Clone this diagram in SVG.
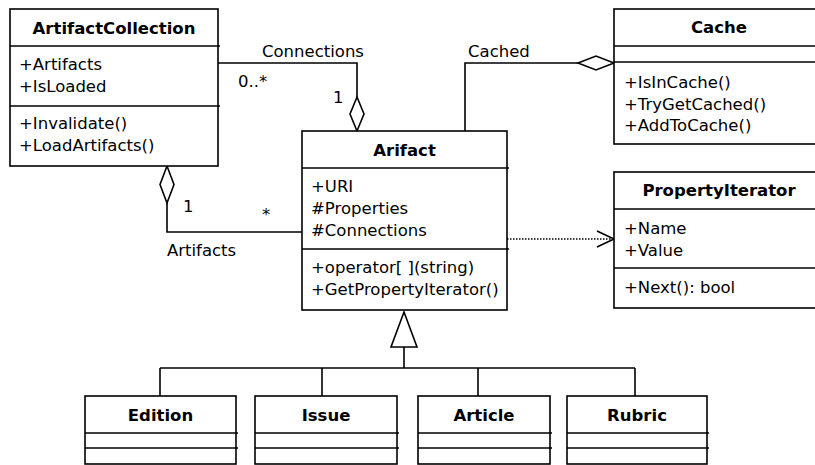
<svg xmlns="http://www.w3.org/2000/svg" width="815" height="465" viewBox="0 0 815 465">
<style>
.box{fill:#fff;stroke:#000;stroke-width:1.6}
.sep{stroke:#000;stroke-width:1.6}
.t{font-family:"DejaVu Sans",Verdana,sans-serif;font-size:16.5px;fill:#000}
.b{font-weight:bold;text-anchor:middle}
.ln{fill:none;stroke:#000;stroke-width:1.6}
.dia{fill:#fff;stroke:#000;stroke-width:1.6}
.tri{fill:#fff;stroke:#000;stroke-width:1.6}
.dot{fill:none;stroke:#000;stroke-width:1.3;stroke-dasharray:1.5 1.5}
</style>
<rect x="0" y="0" width="815" height="465" fill="#fff"/>
<g id="connectors">
  <polyline class="ln" points="218,63 357,63 357,97"/>
  <polygon class="dia" points="357,97 364,114 357,131 350,114"/>
  <polyline class="ln" points="465,131 465,63 578,63"/>
  <polygon class="dia" points="578,63 596,56 614,63 596,70"/>
  <polygon class="dia" points="167,166 174,184.5 167,203 160,184.5"/>
  <polyline class="ln" points="167,203 167,232 302,232"/>
  <line class="dot" x1="507" y1="239" x2="612" y2="239"/>
  <polyline class="ln" points="597,231 614,239 597,247"/>
  <polygon class="tri" points="404,312 417,347 391,347"/>
  <line class="ln" x1="404" y1="347" x2="404" y2="368"/>
  <line class="ln" x1="160" y1="368" x2="635" y2="368"/>
  <line class="ln" x1="160" y1="368" x2="160" y2="396"/>
  <line class="ln" x1="322" y1="368" x2="322" y2="396"/>
  <line class="ln" x1="478" y1="368" x2="478" y2="396"/>
  <line class="ln" x1="635" y1="368" x2="635" y2="396"/>
  <text class="t" x="262" y="57">Connections</text>
  <text class="t" x="238" y="87">0..*</text>
  <text class="t" x="333" y="103">1</text>
  <text class="t" x="468" y="57">Cached</text>
  <text class="t" x="183" y="212">1</text>
  <text class="t" x="262" y="220">*</text>
  <text class="t" x="167" y="256">Artifacts</text>
</g>
<g id="ArtifactCollection">
  <rect class="box" x="10" y="9" width="208" height="157"/>
  <line class="sep" x1="10" y1="46" x2="220" y2="46"/>
  <line class="sep" x1="10" y1="106" x2="220" y2="106"/>
  <text class="t b" x="114" y="34">ArtifactCollection</text>
  <text class="t" x="19" y="70">+Artifacts</text>
  <text class="t" x="19" y="92">+IsLoaded</text>
  <text class="t" x="19" y="129">+Invalidate()</text>
  <text class="t" x="19" y="151">+LoadArtifacts()</text>
</g>
<g id="Arifact">
  <rect class="box" x="302" y="131" width="205" height="179"/>
  <line class="sep" x1="302" y1="168" x2="509" y2="168"/>
  <line class="sep" x1="302" y1="249" x2="509" y2="249"/>
  <text class="t b" x="404.5" y="156">Arifact</text>
  <text class="t" x="311" y="192">+URI</text>
  <text class="t" x="311" y="214">#Properties</text>
  <text class="t" x="311" y="236">#Connections</text>
  <text class="t" x="311" y="273">+operator[ ](string)</text>
  <text class="t" x="311" y="295">+GetPropertyIterator()</text>
</g>
<g id="Cache">
  <rect class="box" x="614" y="9" width="215" height="135"/>
  <line class="sep" x1="614" y1="46" x2="829" y2="46"/>
  <line class="sep" x1="614" y1="62" x2="829" y2="62"/>
  <text class="t b" x="719" y="33">Cache</text>
  <text class="t" x="624" y="88">+IsInCache()</text>
  <text class="t" x="624" y="110">+TryGetCached()</text>
  <text class="t" x="624" y="131">+AddToCache()</text>
</g>
<g id="PropertyIterator">
  <rect class="box" x="614" y="172" width="215" height="136"/>
  <line class="sep" x1="614" y1="209" x2="829" y2="209"/>
  <line class="sep" x1="614" y1="268" x2="829" y2="268"/>
  <text class="t b" x="719" y="196">PropertyIterator</text>
  <text class="t" x="624" y="234">+Name</text>
  <text class="t" x="624" y="256">+Value</text>
  <text class="t" x="624" y="293">+Next(): bool</text>
</g>
<g id="Edition">
  <rect class="box" x="85" y="396" width="151" height="68"/>
  <line class="sep" x1="85" y1="433" x2="238" y2="433"/>
  <line class="sep" x1="85" y1="448" x2="238" y2="448"/>
  <text class="t b" x="160.5" y="421">Edition</text>
</g>
<g id="Issue">
  <rect class="box" x="255" y="396" width="142" height="68"/>
  <line class="sep" x1="255" y1="433" x2="399" y2="433"/>
  <line class="sep" x1="255" y1="448" x2="399" y2="448"/>
  <text class="t b" x="326" y="421">Issue</text>
</g>
<g id="Article">
  <rect class="box" x="418" y="396" width="132" height="68"/>
  <line class="sep" x1="418" y1="433" x2="552" y2="433"/>
  <line class="sep" x1="418" y1="448" x2="552" y2="448"/>
  <text class="t b" x="484" y="421">Article</text>
</g>
<g id="Rubric">
  <rect class="box" x="567" y="396" width="140" height="68"/>
  <line class="sep" x1="567" y1="433" x2="709" y2="433"/>
  <line class="sep" x1="567" y1="448" x2="709" y2="448"/>
  <text class="t b" x="637" y="421">Rubric</text>
</g>
</svg>
